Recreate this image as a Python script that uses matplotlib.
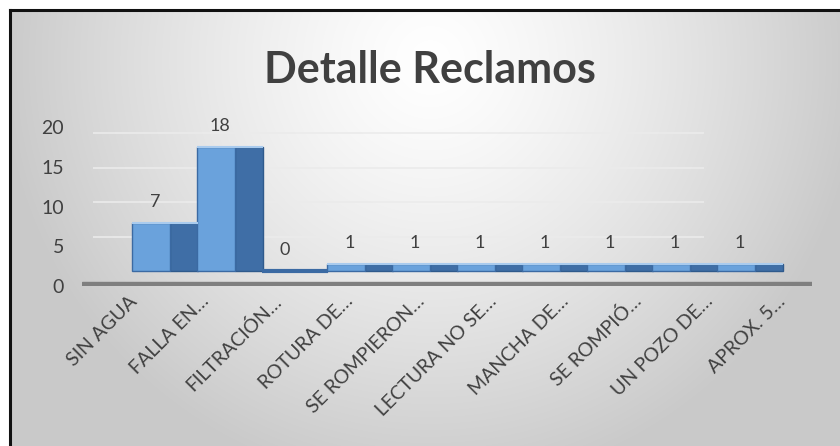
import numpy as np
import matplotlib
matplotlib.use("Agg")
import matplotlib.pyplot as plt

categories = ["SIN AGUA", "FALLA EN…", "FILTRACIÓN…", "ROTURA DE…", "SE ROMPIERON…",
              "LECTURA NO SE…", "MANCHA DE…", "SE ROMPIÓ…", "UN POZO DE…", "APROX. 5…"]
values = [7, 18, 0, 1, 1, 1, 1, 1, 1, 1]
yticks = [0, 5, 10, 15, 20]
title = "Detalle Reclamos"

plt.rcParams['font.family'] = ['Lato', 'DejaVu Sans']
W, H = 840, 446
fig = plt.figure(figsize=(W / 100, H / 100), dpi=100)
fig.patch.set_facecolor('white')

# background panel with radial gradient
bg = fig.add_axes([10 / W, 0, (W - 10) / W, (H - 10) / H])
yy, xx = np.mgrid[0:436, 0:830]
d = np.sqrt(((xx - 420) / 430.0) ** 2 + ((yy - 50) / 430.0) ** 2)
g = 1 - 0.21 * np.clip(d, 0, 1) ** 1.3
img = np.dstack([g, g, g])
bg.imshow(img, aspect='auto', extent=[0, 1, 0, 1], origin='upper', zorder=0)
bg.set_xlim(0, 1); bg.set_ylim(0, 1)
bg.set_xticks([]); bg.set_yticks([])
for s in ['right', 'bottom']:
    bg.spines[s].set_visible(False)
for s in ['left', 'top']:
    bg.spines[s].set_linewidth(2.2)
    bg.spines[s].set_color('#111111')

fig.text(430 / W, (H - 83) / H, title, ha='center', va='baseline',
         fontsize=31, fontweight='bold', color='#404040')

# axes geometry (pixels from top)
x0, x1 = 82, 812
y0, y20 = 286, 127
pos = [x0 / W, (H - y0) / H, (x1 - x0) / W, (y0 - y20) / H]

# front axis: value ticks + category labels
ax = fig.add_axes(pos)
ax.patch.set_alpha(0)
n = len(categories)
lab_x = np.arange(n)
ax.set_xlim(-0.722, 9.417)
ax.set_ylim(0, 20)
ax.set_yticks(yticks)
ax.set_yticklabels([str(t) for t in yticks], fontsize=14, color='#404040')
ax.tick_params(axis='y', length=0, pad=13)
ax.set_xticks(lab_x)
ax.set_xticklabels(categories, rotation=45, ha='right', va='center',
                   rotation_mode='anchor', fontsize=14, color='#404040')
ax.tick_params(axis='x', length=0, pad=9)
for s in ax.spines.values():
    s.set_visible(False)
# floor
ax.axhspan(-0.25, 0.5, xmin=0, xmax=1, color='#7f7f7f', zorder=1)

# back axes: 3D-ish bars
bx = fig.add_axes(pos)
bx.patch.set_alpha(0)
px_unit = 6.91
base = 271.4
bx.set_ylim(-(y0 - base) / px_unit, (base - y20) / px_unit)
bx.set_xlim((x0 - 151) / 65.0, (x1 - 151) / 65.0)
bx.axis('off')
for t in [5, 10, 15, 20]:
    bx.hlines(t, -0.9, 8.5, color='#ebebeb', lw=1.2, zorder=0)

bar_x = np.arange(n)
bar_v = np.array(values)
fw, sw = 0.585, 0.43
bx.bar(bar_x + fw / 2 + sw / 2, bar_v, width=sw, color='#3f6ea6',
       edgecolor='#2f5a8c', linewidth=1.0, zorder=3)
bx.bar(bar_x, bar_v, width=fw, color='#6aa2dc',
       edgecolor='#3b6aa3', linewidth=1.0, zorder=4)
pos_mask = bar_v > 0
bx.hlines(bar_v[pos_mask], bar_x[pos_mask] - fw / 2, bar_x[pos_mask] + fw / 2 + sw,
          color='#a9cbee', lw=1.5, zorder=5)
zero_mask = bar_v == 0
bx.hlines(bar_v[zero_mask], bar_x[zero_mask] - fw / 2, bar_x[zero_mask] + fw / 2 + sw,
          color='#3b6aa3', lw=3, zorder=5)

for xi, v in zip(bar_x, bar_v):
    bx.annotate(str(v), (xi + 0.06, v), xytext=(0, 21),
                textcoords='offset pixels', ha='center', va='center',
                fontsize=13, color='#404040')

fig.savefig('out.png', dpi=100)
